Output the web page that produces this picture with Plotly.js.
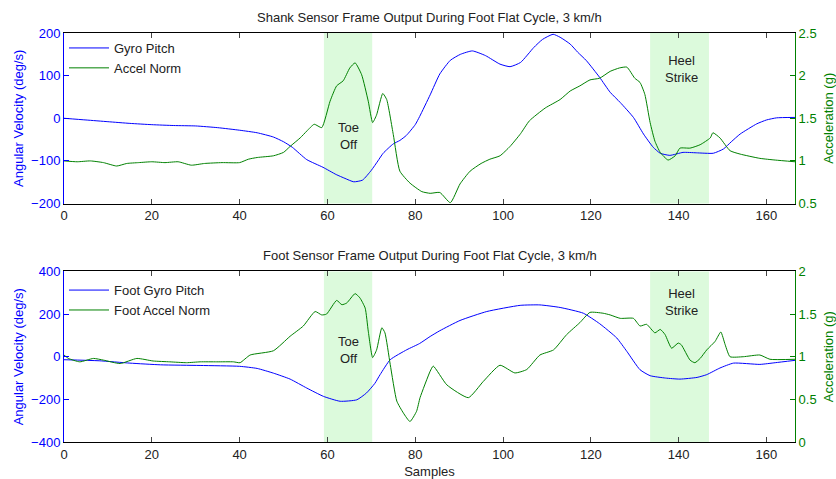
<!DOCTYPE html>
<html>
<head>
<meta charset="utf-8">
<script src="https://cdn.plot.ly/plotly-3.0.1.min.js"></script>
<style>html,body{margin:0;padding:0;background:#fff;}#chart{width:836px;height:479px;}</style>
</head>
<body>
<div id="chart"></div>
<script>
// ---- Shank sensor (top) ----
const shankGyroX = [0,5,10,15,20,25,30,35,40,44,47.7,50,52,55.3,59,62,64,66,68,70,71.5,72.7,75,76.5,78,80,81,83.4,85.6,88,90.3,93,96,99.3,101.6,104,107,109,111.4,113,115.3,117,119,122,124.4,126.7,129.7,132,134.2,135.8,138,141,144,147.9,150.2,152,154,157.8,160,162.3,166.5];
const shankGyro  = [0,-4,-8,-12,-15,-17,-18,-22,-28,-34,-44,-55,-68,-97,-115,-132,-141,-149,-145,-122,-100,-82,-60,-52,-40,-15,4,55,104,136,150,158,147,127,121,131,166,185,197,190,174,155,135,96,61,37,2,-37,-68,-82,-87,-80,-81,-82,-72,-55,-37,-13,-4,1,2];

const shankAccelX = [0,3,6,9,12,14.3,17,20,23,26,29,32,36,40,42,44,47.7,50,51.5,53.8,55.3,57,58.7,60.6,62.1,63.6,65.1,66.3,67.8,69.3,70.3,71.2,72.6,73.5,75,76.5,78.8,81.5,83.4,85.6,88,90.2,92.5,95,97,99.3,101.6,104,106,109.6,113,115.3,117.5,119.8,122,124.4,126.5,128.2,130,131.2,132.3,133.5,134.6,135.8,137.6,139.2,140.3,142.6,144.9,147.2,147.8,149.4,151.7,154,158.5,162,166.5];
const shankAccel  = [1.00,0.99,1.00,0.98,0.94,0.97,0.98,0.99,0.98,0.99,0.95,0.97,0.98,0.98,1.02,1.04,1.06,1.10,1.17,1.27,1.35,1.43,1.39,1.70,1.88,1.94,2.09,2.15,2.01,1.70,1.45,1.54,1.79,1.72,1.31,0.88,0.74,0.64,0.62,0.63,0.51,0.73,0.88,0.97,1.02,1.06,1.17,1.32,1.47,1.62,1.72,1.82,1.88,1.95,1.97,2.05,2.09,2.10,1.97,1.92,1.78,1.45,1.23,1.10,1.01,1.06,1.15,1.15,1.19,1.27,1.33,1.27,1.12,1.08,1.03,1.01,0.99];

// ---- Foot sensor (bottom) ----
const footGyroX = [0,8,15,22,31,40,44,47.7,51.5,55.3,59.1,62.9,66.7,68.9,70.8,72,74.3,78.1,81,83.4,85.6,90.2,96.3,103.9,108.4,113,118.3,122,125.9,128.2,131.2,133.5,137,140.3,144.2,146.4,149.4,152.5,158.5,162,166.5];
const footGyro  = [-14,-19,-30,-38,-41,-45,-55,-77,-105,-147,-186,-209,-202,-170,-125,-84,-14,33,62,95,122,170,212,241,243,231,204,155,88,25,-61,-89,-100,-105,-97,-84,-53,-30,-36,-28,-17];

const footAccelX = [0,1,3.6,6.7,9,12.8,16.6,20.3,24.1,27.9,31,34.8,38.6,40.1,42.4,47.7,51.5,54.5,57.2,58.7,59.8,62.1,63.3,64.4,66.3,67.4,68.6,69.3,70.3,71.2,72.4,73.1,74.3,75.8,77.3,78.8,80.3,81.1,83.4,84.1,87.2,92.1,95.5,99.3,102.7,105.4,108.4,111.5,114.5,117.5,119.8,122.8,124.4,126.7,129.7,131.2,132.7,134.6,135.8,136.9,138.4,139.9,140.6,142.6,143.7,144.9,146.4,148.3,149.6,150.6,151.7,154.7,158.5,160.8,166.5];
const footAccel  = [1.02,0.98,0.94,0.98,0.96,0.92,0.98,0.95,0.94,0.93,0.94,0.94,0.94,0.93,1.02,1.07,1.24,1.36,1.53,1.49,1.50,1.66,1.61,1.63,1.74,1.69,1.57,1.30,0.99,1.08,1.34,1.28,0.91,0.48,0.34,0.24,0.36,0.52,0.83,0.89,0.67,0.52,0.71,0.90,0.81,0.85,1.02,1.08,1.26,1.40,1.52,1.51,1.49,1.45,1.45,1.36,1.38,1.28,1.32,1.26,1.10,1.16,1.14,0.96,0.93,0.98,1.08,1.18,1.29,1.14,1.00,1.00,1.02,0.97,0.97];

// ---- Event regions and labels ----
const eventStart = [59.2, 133.5];
const eventEnd   = [70.2, 146.9];
const eventLabels = ["Toe<br>Off", "Heel<br>Strike"];
const eventLabelX = [64.8, 140.6];
const shankLabelY = [-41, 115];
const footLabelY  = [33, 255];

const xTicks = [0,20,40,60,80,100,120,140,160];
const titles = ["Shank Sensor Frame Output During Foot Flat Cycle, 3 km/h",
                "Foot Sensor Frame Output During Foot Flat Cycle, 3 km/h"];

const BLUE = '#0000ff', GREEN = '#008000', SHADE = 'rgb(220,250,220)', TXT = '#222';
const FONT = 'Liberation Sans, Arial, sans-serif';
const FS = 13;

const traces = [
  {x: shankGyroX, y: shankGyro, name: 'Gyro Pitch', xaxis:'x', yaxis:'y', mode:'lines', line:{color:BLUE,width:1,shape:'spline',smoothing:0.5}, legend:'legend'},
  {x: shankAccelX, y: shankAccel, name: 'Accel Norm', xaxis:'x', yaxis:'y2', mode:'lines', line:{color:GREEN,width:1,shape:'spline',smoothing:0.5}, legend:'legend'},
  {x: footGyroX, y: footGyro, name: 'Foot Gyro Pitch', xaxis:'x2', yaxis:'y3', mode:'lines', line:{color:BLUE,width:1,shape:'spline',smoothing:0.5}, legend:'legend2'},
  {x: footAccelX, y: footAccel, name: 'Foot Accel Norm', xaxis:'x2', yaxis:'y4', mode:'lines', line:{color:GREEN,width:1,shape:'spline',smoothing:0.5}, legend:'legend2'}
];

const shapes = [];
const annotations = [];
for (let i = 0; i < eventStart.length; i++) {
  shapes.push({type:'rect', xref:'x', yref:'y domain', x0:eventStart[i], x1:eventEnd[i], y0:0, y1:1, fillcolor:SHADE, line:{width:0}, layer:'below'});
  shapes.push({type:'rect', xref:'x2', yref:'y3 domain', x0:eventStart[i], x1:eventEnd[i], y0:0, y1:1, fillcolor:SHADE, line:{width:0}, layer:'below'});
  annotations.push({xref:'x', yref:'y', x:eventLabelX[i], y:shankLabelY[i], text:eventLabels[i], showarrow:false, font:{family:FONT,size:FS,color:TXT}});
  annotations.push({xref:'x2', yref:'y3', x:eventLabelX[i], y:footLabelY[i], text:eventLabels[i], showarrow:false, font:{family:FONT,size:FS,color:TXT}});
}
annotations.push({xref:'paper', yref:'paper', x:0.5, y:1.039, xanchor:'center', yanchor:'middle', text:titles[0], showarrow:false, font:{family:FONT,size:FS,color:TXT}});
annotations.push({xref:'paper', yref:'paper', x:0.5, y:0.457, xanchor:'center', yanchor:'middle', text:titles[1], showarrow:false, font:{family:FONT,size:FS,color:TXT}});

const xBase = {range:[0,166.5], tickvals:xTicks, ticks:'inside', ticklen:5, showline:true, linecolor:'#000', linewidth:1, mirror:'ticks', showgrid:false, zeroline:false, tickfont:{family:FONT,size:FS,color:TXT}};
const yLeft = (dom, rng, dt, anchor) => ({domain:dom, range:rng, dtick:dt, anchor:anchor, ticks:'inside', ticklen:5, showline:true, linecolor:BLUE, tickcolor:BLUE, showgrid:false, zeroline:false, tickfont:{family:FONT,size:FS,color:BLUE}, title:{text:'Angular Velocity (deg/s)', font:{family:FONT,size:FS,color:BLUE}, standoff:4}});
const yRight = (over, rng, dt, anchor) => ({overlaying:over, side:'right', range:rng, dtick:dt, anchor:anchor, ticks:'inside', ticklen:5, showline:true, linecolor:GREEN, tickcolor:GREEN, showgrid:false, zeroline:false, tickfont:{family:FONT,size:FS,color:GREEN}, title:{text:'Acceleration (g)', font:{family:FONT,size:FS,color:GREEN}, standoff:8}});

const layout = {
  width:836, height:479,
  margin:{l:64, r:41, t:33, b:37},
  paper_bgcolor:'#fff', plot_bgcolor:'#fff',
  font:{family:FONT, size:FS, color:TXT},
  showlegend:true,
  xaxis: Object.assign({}, xBase, {domain:[0,1], anchor:'y'}),
  xaxis2: Object.assign({}, xBase, {domain:[0,1], anchor:'y3', title:{text:'Samples', font:{family:FONT,size:FS,color:TXT}, standoff:7}}),
  yaxis: yLeft([0.583,1], [-200,200], 100, 'x'),
  yaxis2: yRight('y', [0.5,2.5], 0.5, 'x'),
  yaxis3: yLeft([0,0.417], [-400,400], 200, 'x2'),
  yaxis4: yRight('y3', [0,2], 0.5, 'x2'),
  legend: {x:0, y:1, xanchor:'left', yanchor:'top', bgcolor:'rgba(0,0,0,0)', itemwidth:40, font:{family:FONT,size:FS,color:TXT}},
  legend2: {x:0, y:0.408, xanchor:'left', yanchor:'top', bgcolor:'rgba(0,0,0,0)', itemwidth:40, font:{family:FONT,size:FS,color:TXT}},
  shapes: shapes,
  annotations: annotations
};

Plotly.newPlot('chart', traces, layout, {displayModeBar:false, staticPlot:true});
</script>
</body>
</html>
